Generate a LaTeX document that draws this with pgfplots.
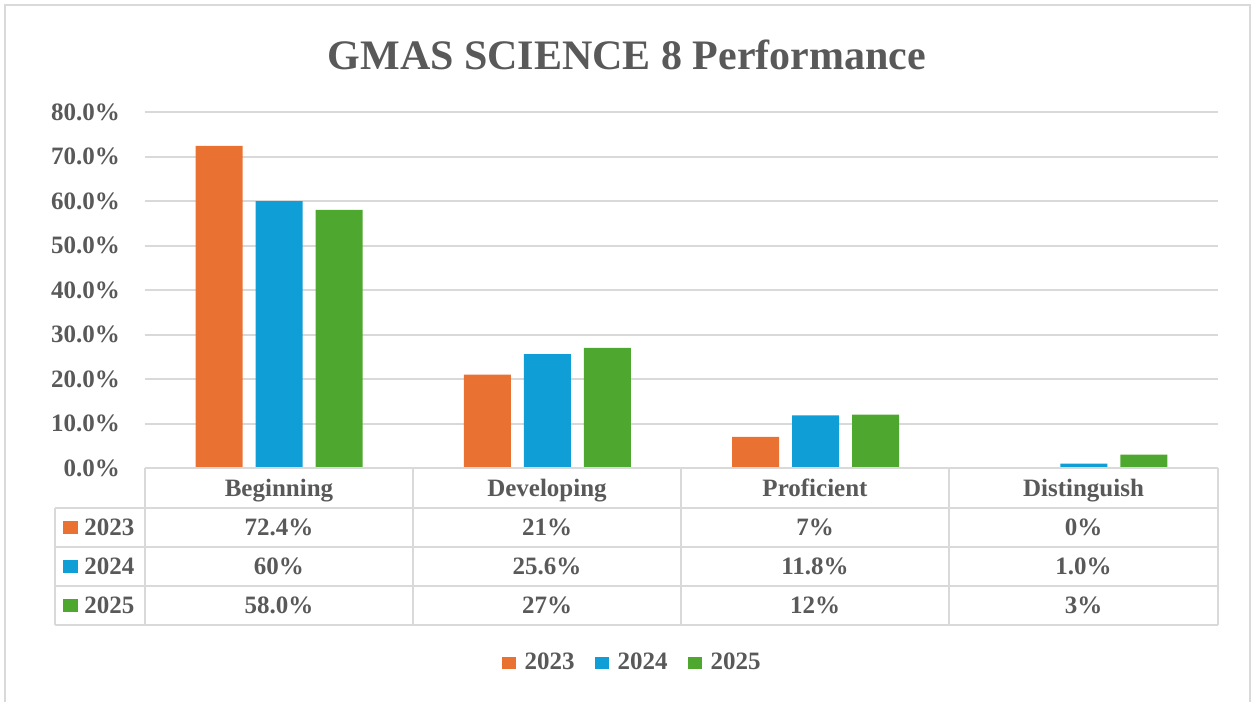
\documentclass[border=0pt]{standalone}
\usepackage{pgfplots}
\pgfplotsset{compat=1.18}
\usepackage{fontspec}
\setmainfont{Liberation Serif}
\definecolor{c23}{HTML}{E97132}
\definecolor{c24}{HTML}{0F9ED5}
\definecolor{c25}{HTML}{4EA72E}
\definecolor{txt}{HTML}{595959}
\definecolor{gridc}{HTML}{D9D9D9}
\newcommand{\lab}{\fontsize{12.5}{15}\selectfont\bfseries}

\begin{document}
\begin{tikzpicture}
% pixel frame: 1px = 0.5pt, origin at the plot's lower left corner
\begin{scope}[x=0.5pt,y=-0.5pt,shift={(-72.5pt,234pt)}]
  \path (0,0) rectangle (1254,702);
  \draw[gridc, line width=1pt] (5,702) -- (5,5) -- (1250,5) -- (1250,702);
  \node[txt, font=\fontsize{21}{25}\selectfont\bfseries] at (627,55) {GMAS SCIENCE 8 Performance};
\end{scope}

\begin{axis}[
    at={(0pt,0pt)}, anchor=south west,
    scale only axis,
    width=536.5pt, height=178pt,
    ybar=6.5pt, bar width=23.5pt,
    xmin=-0.5, xmax=3.5,
    ymin=0, ymax=80,
    ytick={0,10,...,80},
    xtick=\empty,
    ymajorgrids,
    grid style={gridc, line width=1pt},
    axis line style={draw=none},
    major tick length=0pt,
    /pgf/number format/assume math mode=true,
    yticklabel={\pgfmathprintnumber[fixed,fixed zerofill,precision=1]{\tick}\%},
    yticklabel style={font=\lab, text=txt, xshift=-9pt},
    legend style={at={(0.455,-0.548)}, anchor=center, draw=none,
        font=\lab, text=txt, legend columns=-1,
        /tikz/every odd column/.append style={column sep=2.5pt},
        /tikz/every even column/.append style={column sep=8pt}},
    legend image code/.code={\fill[#1] (0pt,-3pt) rectangle (7pt,3pt);},
  ]
  \addplot[fill=c23, draw=none] coordinates {(0,72.4) (1,21) (2,7) (3,0)};
  \addplot[fill=c24, draw=none] coordinates {(0,60) (1,25.6) (2,11.8) (3,1.0)};
  \addplot[fill=c25, draw=none] coordinates {(0,58) (1,27) (2,12) (3,3)};
  \legend{2023,2024,2025}
\end{axis}

% data table below the plot
\begin{scope}[x=0.5pt,y=-0.5pt,shift={(-72.5pt,234pt)}]
  \begin{scope}[gridc, line width=1pt]
    \draw (145,468) -- (1218,468);
    \foreach \yy in {508,547,586,625} \draw (55,\yy) -- (1218,\yy);
    \draw (55,508) -- (55,625);
    \foreach \xx in {145,413,681,949,1218} \draw (\xx,468) -- (\xx,625);
  \end{scope}
  \begin{scope}[every node/.style={text=txt, font=\lab, inner sep=0pt}]
    \node[anchor=base] at (279,496) {Beginning};
    \node[anchor=base] at (547,496) {Developing};
    \node[anchor=base] at (815,496) {Proficient};
    \node[anchor=base] at (1083.5,496) {Distinguish};
    % row keys
    \fill[c23] (63,521) rectangle (78,534);
    \fill[c24] (63,560) rectangle (78,573);
    \fill[c25] (63,599) rectangle (78,612);
    \node[anchor=west] at (84,527.5) {2023};
    \node[anchor=west] at (84,566.5) {2024};
    \node[anchor=west] at (84,605.5) {2025};
    % 2023
    \node at (279,527.5) {72.4\%};
    \node at (547,527.5) {21\%};
    \node at (815,527.5) {7\%};
    \node at (1083.5,527.5) {0\%};
    % 2024
    \node at (279,566.5) {60\%};
    \node at (547,566.5) {25.6\%};
    \node at (815,566.5) {11.8\%};
    \node at (1083.5,566.5) {1.0\%};
    % 2025
    \node at (279,605.5) {58.0\%};
    \node at (547,605.5) {27\%};
    \node at (815,605.5) {12\%};
    \node at (1083.5,605.5) {3\%};
  \end{scope}
\end{scope}
\end{tikzpicture}
\end{document}
